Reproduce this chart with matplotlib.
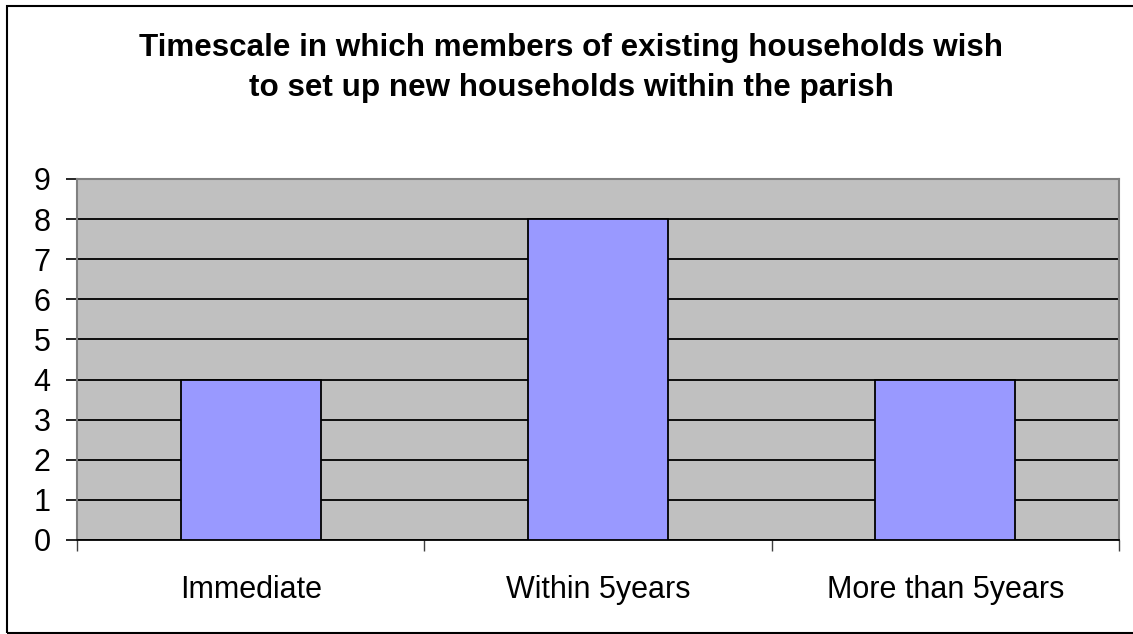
import matplotlib.pyplot as plt
import numpy as np
from matplotlib.patches import Rectangle

plt.rcParams['font.family'] = ['Liberation Sans', 'DejaVu Sans']

categories = ["Immediate", "Within 5years", "More than 5years"]
counts = [4, 8, 4]
title = ("Timescale in which members of existing households wish\n"
         "to set up new households within the parish")

fig = plt.figure(figsize=(11.33, 6.34), dpi=100)
ax = fig.add_axes([0.068, 0.1483, 0.9197, 0.5694])

# chart frame around the whole figure
fig.patches.append(Rectangle((0.006, 0.002), 1.2, 0.9885, transform=fig.transFigure,
                             fill=False, edgecolor='black', linewidth=1.5))

x = np.arange(len(categories))
ax.set_facecolor('#C0C0C0')
ax.bar(x, counts, width=0.403, color='#9999FF', edgecolor='black',
       linewidth=1.3, zorder=3)

ax.set_xlim(-0.5, len(categories) - 0.5)
ax.set_ylim(0, 9)
ax.set_yticks(range(0, 10))
ax.yaxis.grid(True, color='black', linewidth=1.3)
ax.set_axisbelow(True)

# category labels sit between boundary ticks
ax.set_xticks(x)
ax.set_xticklabels(categories)
ax.tick_params(axis='x', length=0, pad=25, labelsize=22)
ax.set_xticks(np.arange(-0.5, len(categories)), minor=True)
ax.tick_params(axis='x', which='minor', length=8, color='#404040', width=1)
ax.tick_params(axis='y', length=8, width=1.2, pad=11, labelsize=22)

for side in ['top', 'right', 'left']:
    ax.spines[side].set_color('#808080')
    ax.spines[side].set_linewidth(1.5)
ax.spines['bottom'].set_color('black')
ax.spines['bottom'].set_linewidth(1.3)

fig.text(0.5044, 0.893, title, ha='center', va='center', fontsize=22.6,
         fontweight='bold', linespacing=1.45)

fig.savefig('out.png', dpi=100)
